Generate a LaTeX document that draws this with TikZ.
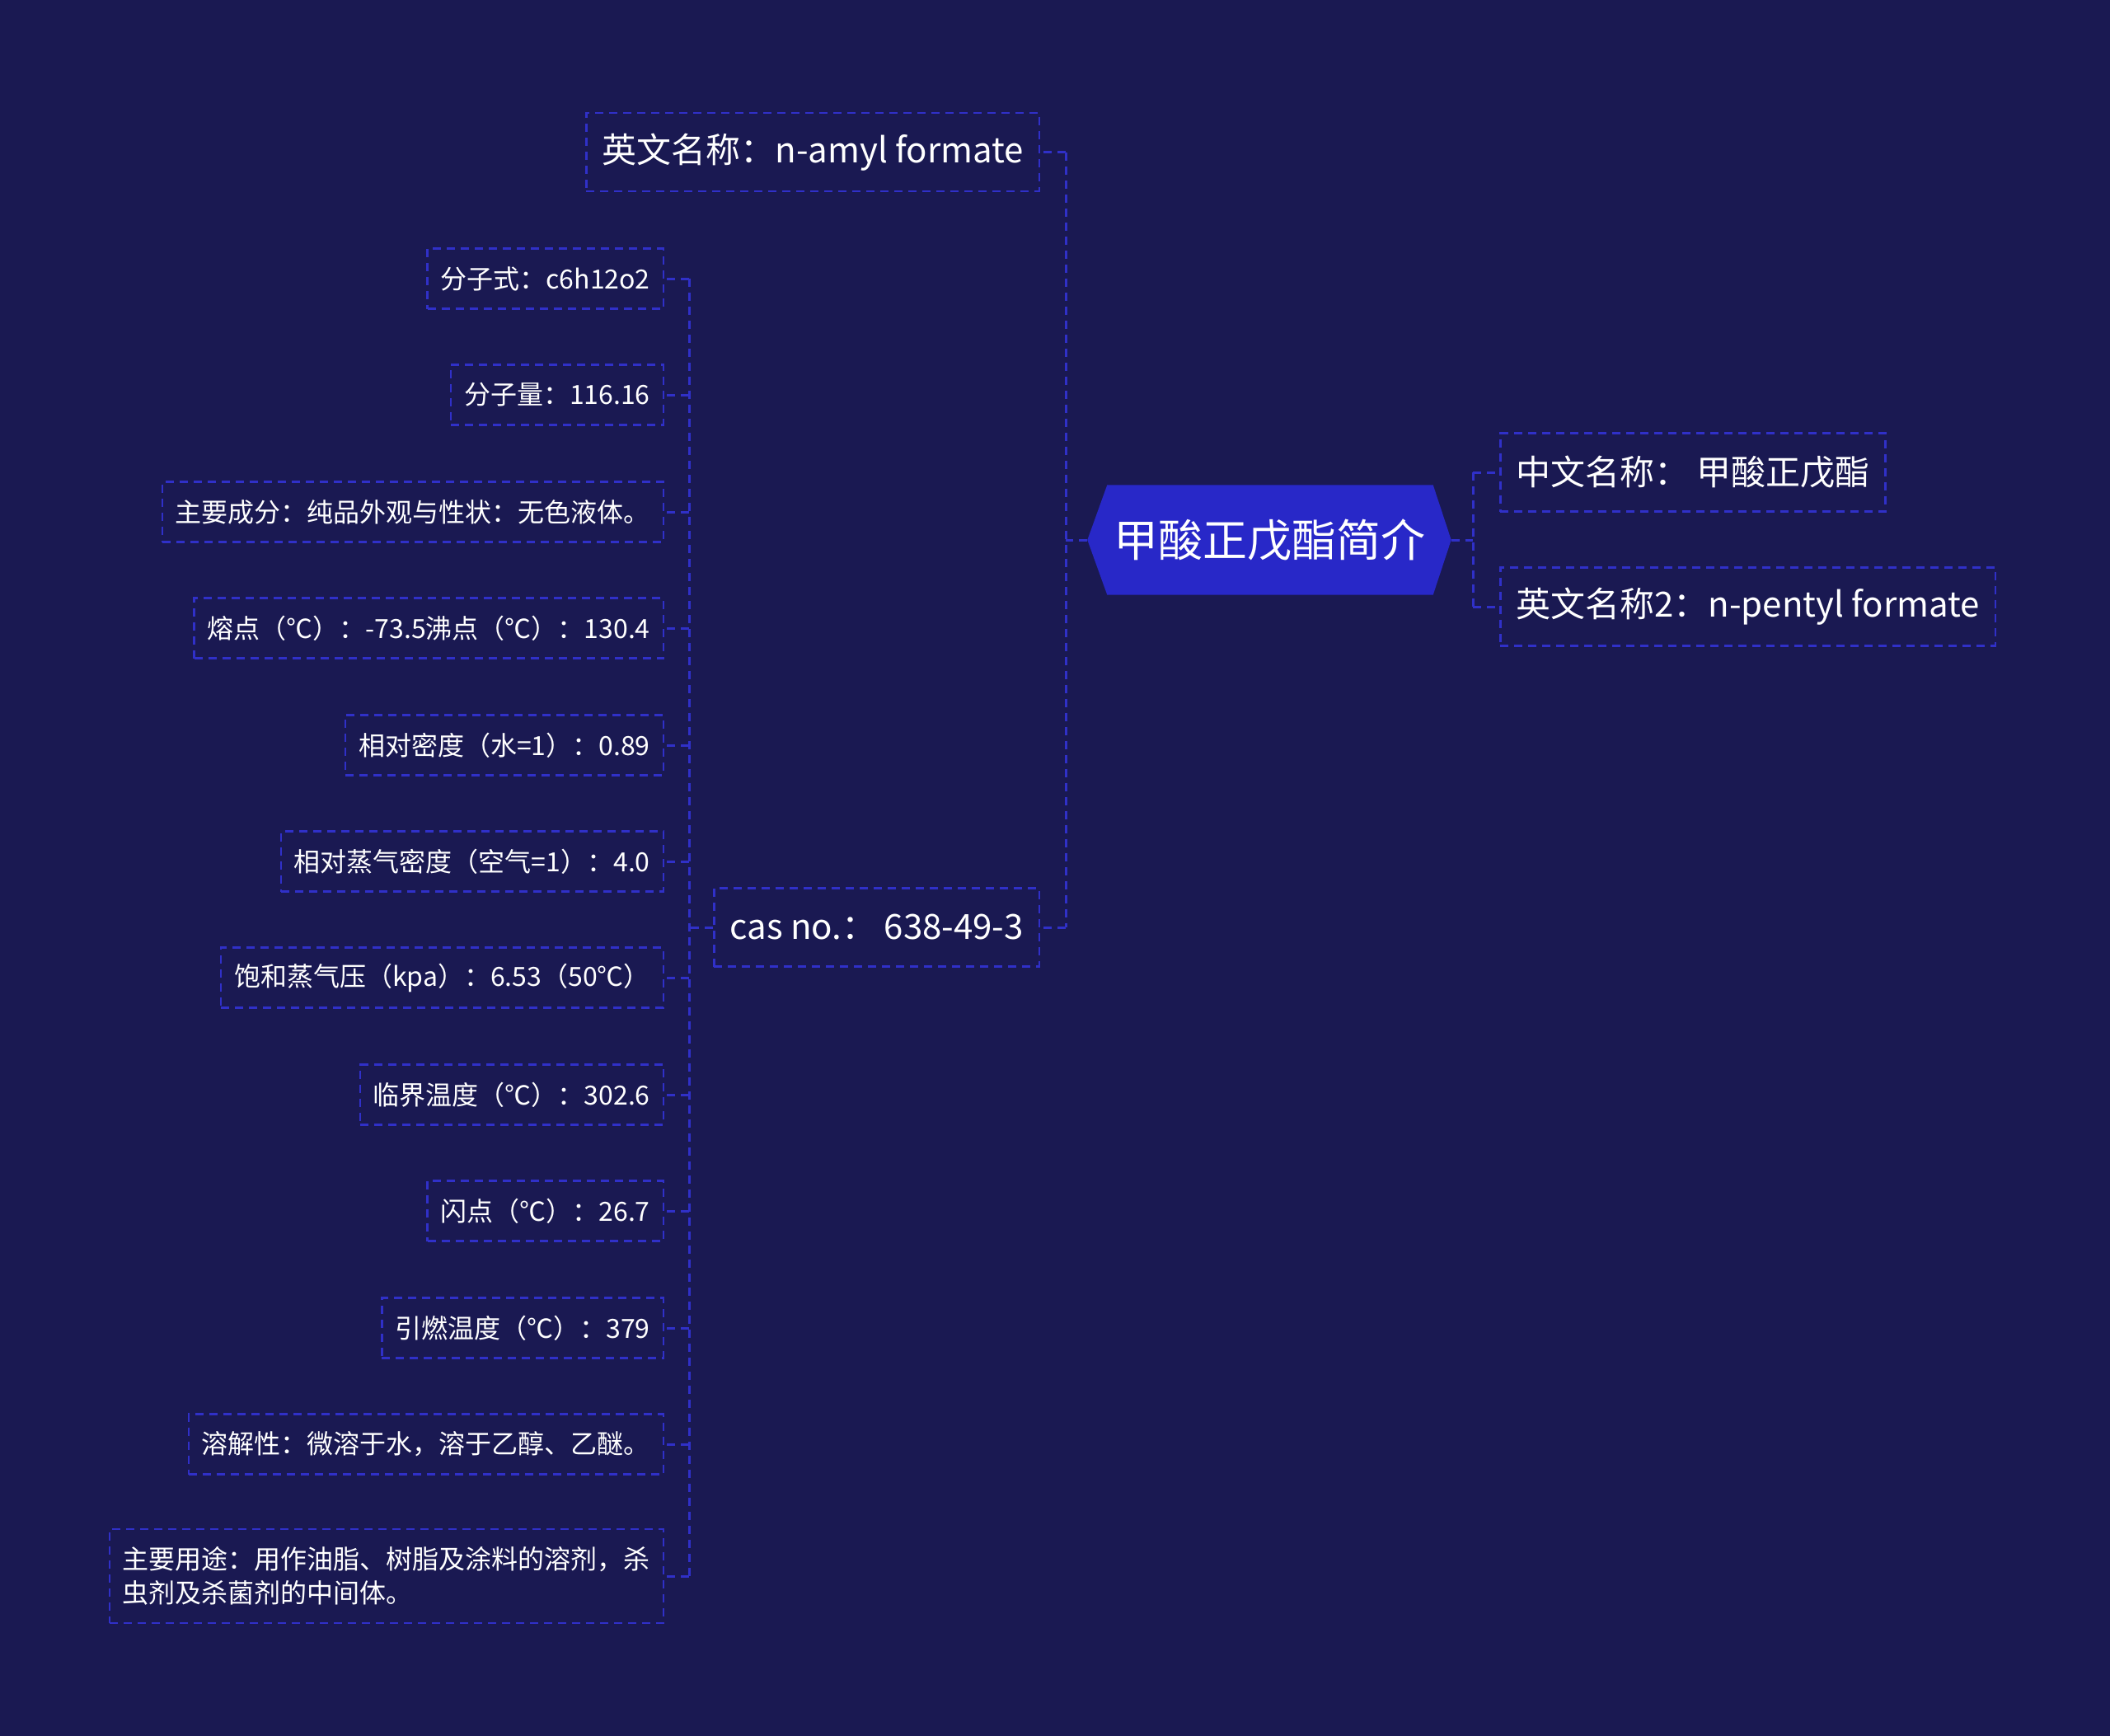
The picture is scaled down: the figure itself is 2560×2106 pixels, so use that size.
\documentclass[tikz,border=0pt]{standalone}
\usepackage{fontspec}
\setmainfont{Noto Sans CJK SC}
\usetikzlibrary{backgrounds}
\definecolor{bgc}{HTML}{1A1952}
\definecolor{lnc}{HTML}{3030C8}
\definecolor{rootc}{HTML}{2828C8}
\begin{document}
\begin{tikzpicture}[x=1pt,y=-1pt,
  conn/.style={draw=lnc, line width=3pt, dash pattern=on 10pt off 7pt},
  boxbase/.style={draw=lnc, line width=2.5pt, dash pattern=on 10pt off 7pt, text=white, inner sep=0pt},
  leafbox/.style={boxbase, font=\fontsize{32}{41}\selectfont, minimum height=73pt, inner xsep=16pt, anchor=east},
  mainbox/.style={boxbase, font=\fontsize{42}{50}\selectfont, minimum height=95pt, inner xsep=19pt},
]
\useasboundingbox (0,0) rectangle (2560,2106);
% root
\node[text=white, font=\fontsize{54}{60}\selectfont, minimum width=441pt, minimum height=133pt, inner sep=0pt] (root) at (1540,655) {甲酸正戊酯简介};
% level 1
\node[mainbox, anchor=east] (eng) at (1262,184.5) {英文名称：n-amyl formate};
\node[mainbox, anchor=east] (cas) at (1262,1125) {cas no.： 638-49-3};
\node[mainbox, anchor=west] (zh) at (1819,573) {中文名称： 甲酸正戊酯};
\node[mainbox, anchor=west] (en2) at (1819,736) {英文名称2：n-pentyl formate};
% level 2
\node[leafbox] (c1) at (806,338) {分子式：c6h12o2};
\node[leafbox] (c2) at (806,479) {分子量：116.16};
\node[leafbox] (c3) at (806,621) {主要成分：纯品外观与性状：无色液体。};
\node[leafbox] (c4) at (806,762) {熔点（℃）：-73.5沸点（℃）：130.4};
\node[leafbox] (c5) at (806,904) {相对密度（水=1）：0.89};
\node[leafbox] (c6) at (806,1045) {相对蒸气密度（空气=1）：4.0};
\node[leafbox] (c7) at (806,1186) {饱和蒸气压（kpa）：6.53（50℃）};
\node[leafbox] (c8) at (806,1328) {临界温度（℃）：302.6};
\node[leafbox] (c9) at (806,1469) {闪点（℃）：26.7};
\node[leafbox] (c10) at (806,1611) {引燃温度（℃）：379};
\node[leafbox] (c11) at (806,1752) {溶解性：微溶于水，溶于乙醇、乙醚。};
\node[leafbox, align=left, minimum height=114pt] (c12) at (806,1912) {主要用途：用作油脂、树脂及涂料的溶剂，杀\\虫剂及杀菌剂的中间体。};
% background + root hexagon
\begin{scope}[on background layer]
\fill[bgc] (0,0) rectangle (2560,2106);
\fill[rootc] (root.west) -- ([xshift=24pt]root.north west) -- ([xshift=-22pt]root.north east) -- (root.east) -- ([xshift=-22pt]root.south east) -- ([xshift=24pt]root.south west) -- cycle;
\end{scope}
% connectors left level 1
\coordinate (b1) at (1293,655);
\draw[conn] (root.west) -- (b1);
\draw[conn] (eng.east -| b1) -- (cas.east -| b1);
\draw[conn] (eng.east -| b1) -- (eng.east);
\draw[conn] (cas.east -| b1) -- (cas.east);
% right
\coordinate (b3) at (1787,655);
\draw[conn] (root.east) -- (b3);
\draw[conn] (zh.west -| b3) -- (en2.west -| b3);
\draw[conn] (zh.west -| b3) -- (zh.west);
\draw[conn] (en2.west -| b3) -- (en2.west);
% level 2
\coordinate (b2) at (836,1125);
\draw[conn] (cas.west) -- (b2);
\draw[conn] (c1.east -| b2) -- (c12.east -| b2);
\foreach \i in {1,...,12} {
  \draw[conn] (c\i.east -| b2) -- (c\i.east);
}
\end{tikzpicture}
\end{document}
